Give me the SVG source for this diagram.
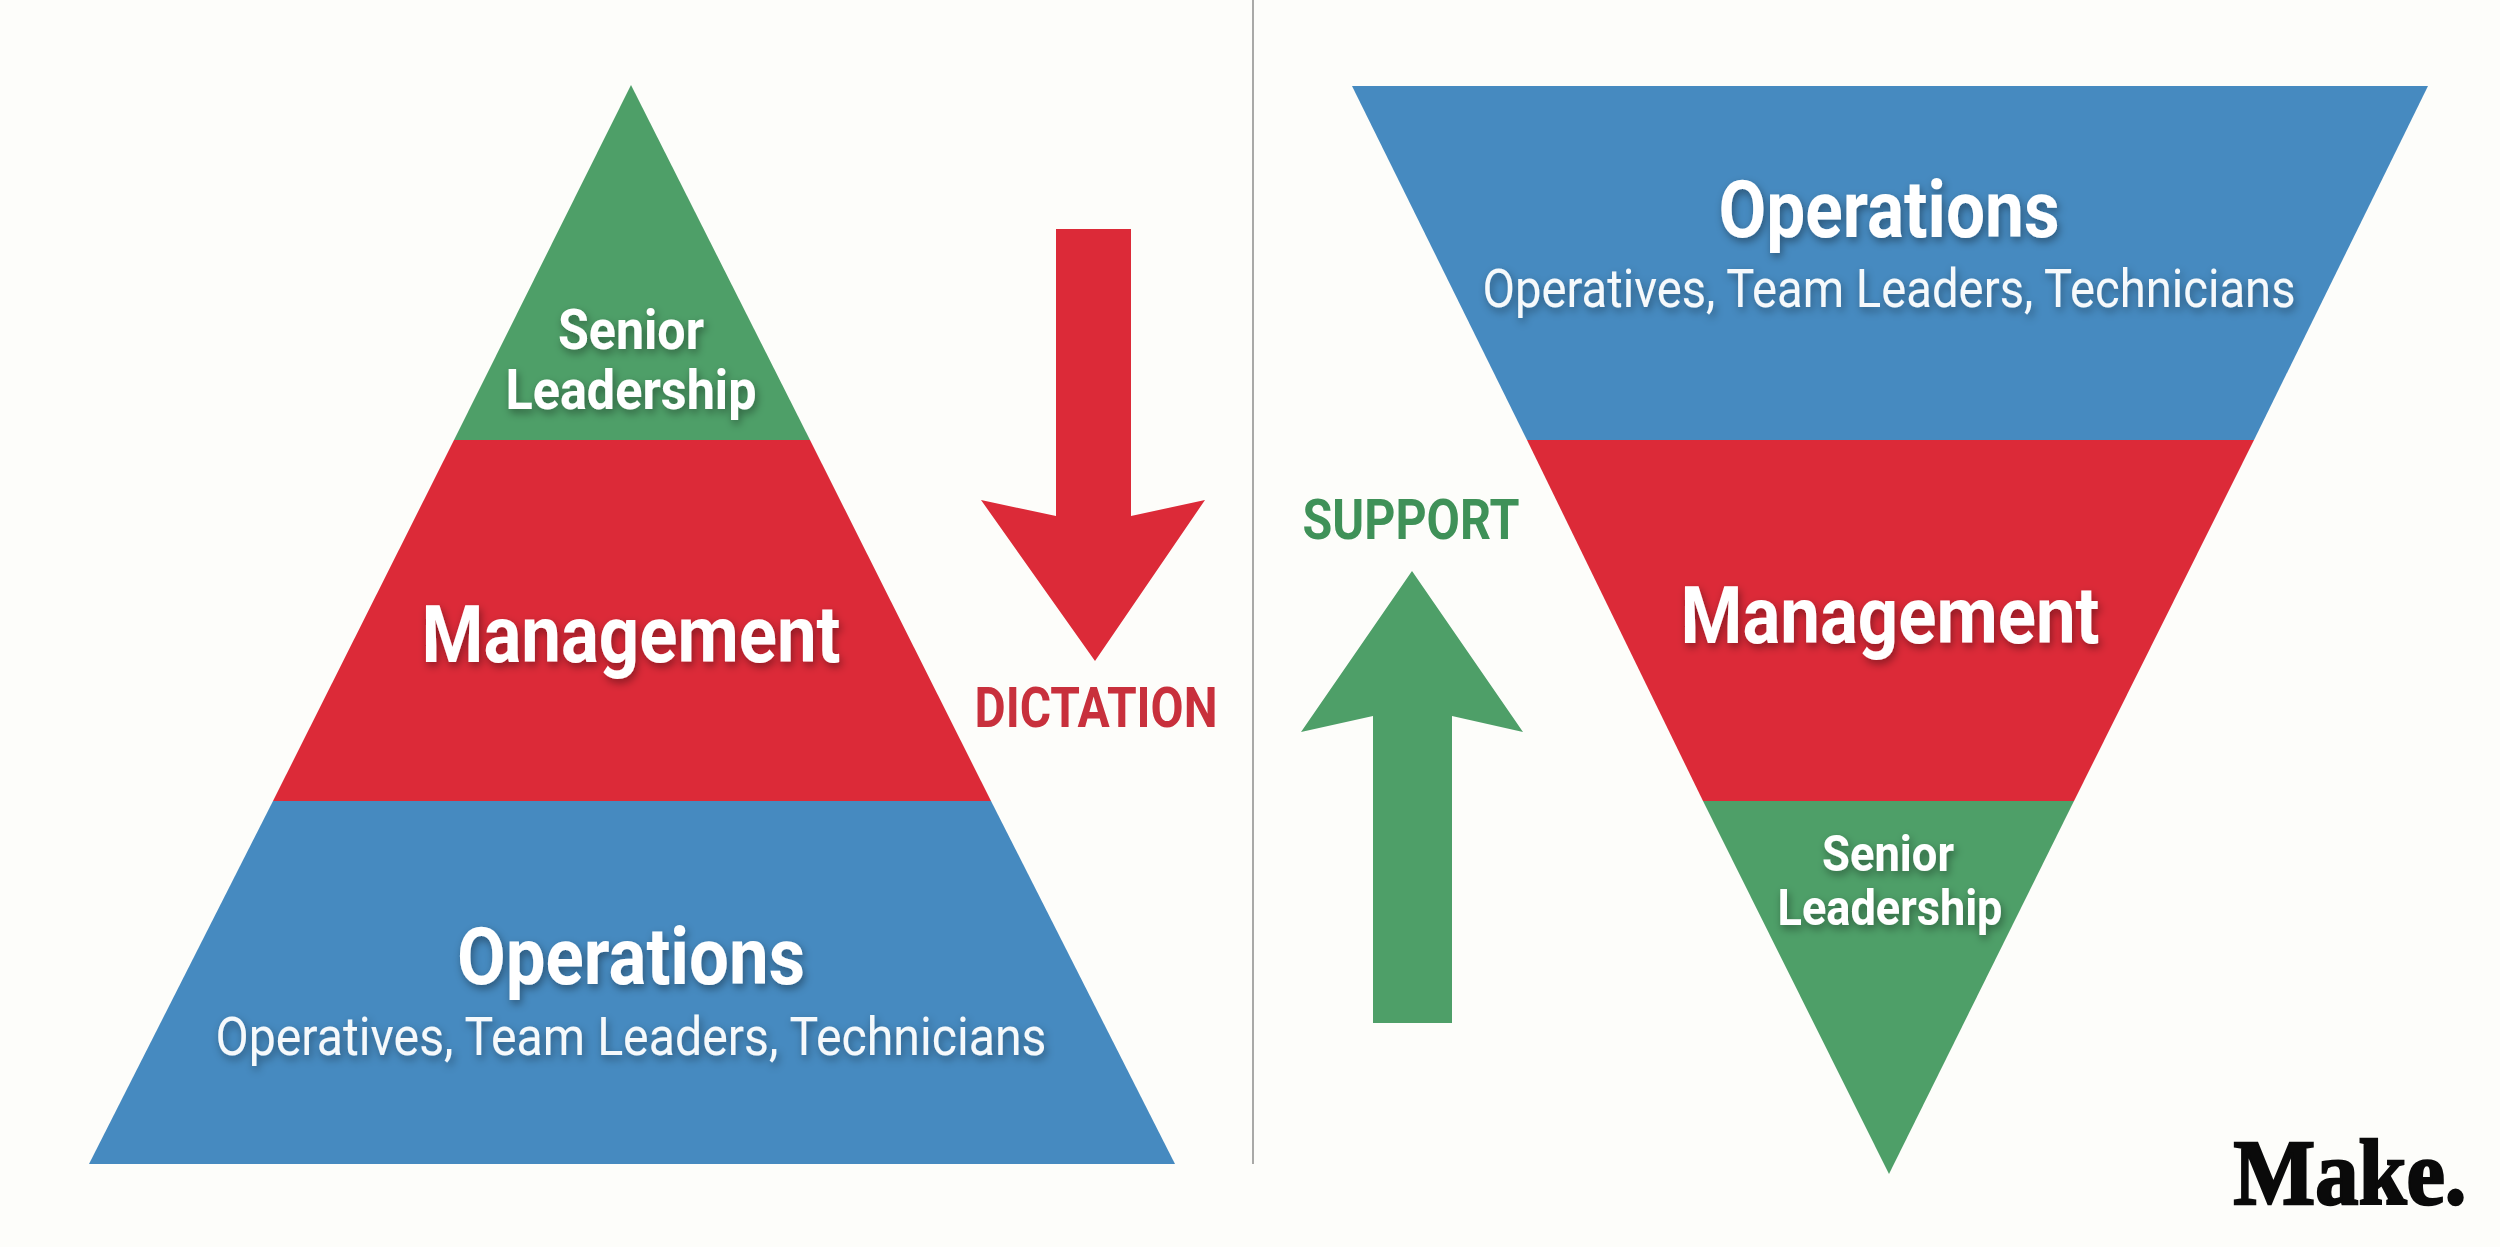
<svg xmlns="http://www.w3.org/2000/svg" width="2500" height="1247" viewBox="0 0 2500 1247">
<defs>
<filter id="ts" x="-20%" y="-40%" width="140%" height="180%"><feDropShadow dx="2" dy="4" stdDeviation="4" flood-color="#000" flood-opacity="0.38"/></filter>
</defs>
<style>
text{font-family:Roboto,"Liberation Sans",sans-serif;text-anchor:middle}
.blue{fill:#468ac0}.red{fill:#dc2a38}.green{fill:#4e9f68}
.lbl{fill:#fff;font-weight:700;filter:url(#ts)}
.sub{fill:#f6f9fb;font-weight:400;font-size:54px;filter:url(#ts)}
.big{font-size:79px}.sm{font-size:56px}
</style>
<rect width="2500" height="1247" fill="#fdfdfa"/>
<line x1="1253" y1="0" x2="1253" y2="1164" stroke="#a9a9a7" stroke-width="2"/>
<g id="left-senior"><polygon class="green" points="631,85 454,440 810,440"/>
<text class="lbl sm" x="631" y="349" textLength="146" lengthAdjust="spacingAndGlyphs">Senior</text>
<text class="lbl sm" x="631" y="409" textLength="251" lengthAdjust="spacingAndGlyphs">Leadership</text></g>
<g id="left-management"><polygon class="red" points="454,440 810,440 991,801 273,801"/>
<text class="lbl big" x="631" y="662" textLength="419" lengthAdjust="spacingAndGlyphs">Management</text></g>
<g id="left-operations"><polygon class="blue" points="273,801 991,801 1175,1164 89,1164"/>
<text class="lbl big" x="631" y="984" textLength="348" lengthAdjust="spacingAndGlyphs">Operations</text>
<text class="sub" x="631" y="1055" textLength="831" lengthAdjust="spacingAndGlyphs">Operatives, Team Leaders, Technicians</text></g>
<g id="right-operations"><polygon class="blue" points="1352,86 2428,86 2254,440 1527,440"/>
<text class="lbl big" x="1889" y="237" textLength="341" lengthAdjust="spacingAndGlyphs">Operations</text>
<text class="sub" x="1889" y="307" textLength="813" lengthAdjust="spacingAndGlyphs">Operatives, Team Leaders, Technicians</text></g>
<g id="right-management"><polygon class="red" points="1527,440 2254,440 2074,801 1703,801"/>
<text class="lbl big" x="1890" y="643" textLength="419" lengthAdjust="spacingAndGlyphs">Management</text></g>
<g id="right-senior"><polygon class="green" points="1703,801 2074,801 1889,1174"/>
<text class="lbl" font-size="50" x="1888" y="871" textLength="132" lengthAdjust="spacingAndGlyphs">Senior</text>
<text class="lbl" font-size="50" x="1890" y="925" textLength="225" lengthAdjust="spacingAndGlyphs">Leadership</text></g>
<g id="connectors">
<polygon class="red" points="1056,229 1131,229 1131,516 1205,500 1095,661 981,500 1056,516"/>
<polygon class="green" points="1412,571 1523,732 1452,716 1452,1023 1373,1023 1373,716 1301,732"/>
</g>
<g id="label-dictation"><text x="1096" y="727" font-size="56" font-weight="700" fill="#c8303c" textLength="243" lengthAdjust="spacingAndGlyphs">DICTATION</text></g>
<g id="label-support"><text x="1411" y="539" font-size="56" font-weight="700" fill="#3f9158" textLength="217" lengthAdjust="spacingAndGlyphs">SUPPORT</text></g>
<g id="logo"><text x="2350" y="1204" font-size="94" font-weight="700" fill="#0a0a0a" stroke="#0a0a0a" stroke-width="2.5" style="font-family:'Liberation Serif',serif" textLength="233" lengthAdjust="spacingAndGlyphs">Make.</text></g>
</svg>
